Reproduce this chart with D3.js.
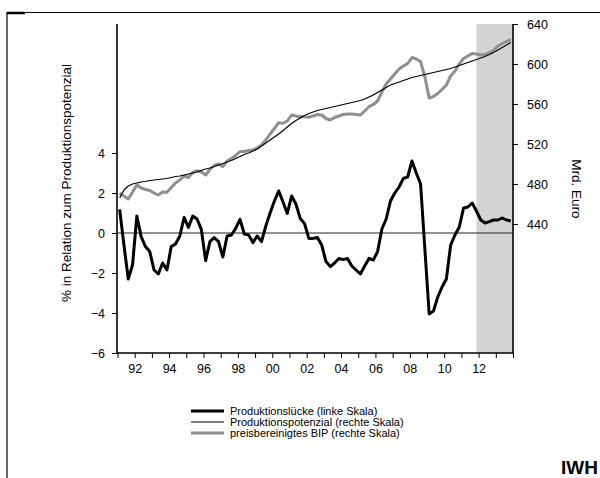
<!DOCTYPE html>
<html>
<head>
<meta charset="utf-8">
<script src="https://cdn.jsdelivr.net/npm/d3@7"></script>
<style>
  body { margin: 0; background: #fff; }
  svg { display: block; font-family: "Liberation Sans", Arial, sans-serif; }
  text { fill: #000; }
</style>
</head>
<body>
<svg id="chart" width="600" height="478"></svg>
<script>
// quarterly data 1991Q1 .. 2013Q4
var startYear = 1991
var forecastStart = 2011.875

// Produktionslücke in % (left scale)
var gap = [1.18, -0.6, -2.3, -1.6, 0.85, -0.18, -0.68, -0.93, -1.85, -2.05,
  -1.5, -1.85, -0.68, -0.55, -0.15, 0.78, 0.28, 0.85, 0.7, 0.18,
  -1.38, -0.43, -0.23, -0.43, -1.2, -0.15, -0.1, 0.23, 0.68, -0.05,
  -0.1, -0.48, -0.15, -0.43, 0.35, 1.0, 1.6, 2.1, 1.55, 0.98,
  1.85, 1.45, 0.73, 0.48, -0.27, -0.27, -0.22, -0.6, -1.43, -1.68,
  -1.5, -1.27, -1.33, -1.27, -1.65, -1.85, -2.05, -1.65, -1.27, -1.35,
  -0.93, 0.2, 0.7, 1.6, 2.0, 2.3, 2.73, 2.8, 3.6, 3.0,
  2.45, -0.8, -4.05, -3.9, -3.2, -2.7, -2.3, -0.6, -0.1, 0.3,
  1.25, 1.3, 1.5, 1.1, 0.65, 0.5, 0.57, 0.65, 0.65, 0.75,
  0.65, 0.6]

// Produktionspotenzial in Mrd. Euro (right scale)
var potential = [466, 474, 478, 480, 481, 482, 482.5, 483.5, 484, 484.5,
  485, 485.5, 486.5, 487.5, 488, 489, 490, 491, 492, 493.5,
  495, 496, 497.5, 499, 500.5, 502, 503.5, 505.5, 507.5, 509.5,
  511, 513, 515, 518, 521, 524, 527, 530, 533.5, 537,
  540.5, 543.5, 546, 548.5, 550.5, 552, 553.5, 554.5, 555.5, 556.5,
  557.5, 558.5, 559.5, 560.5, 561.5, 562.5, 563.5, 565, 567, 569,
  571.5, 574, 576.5, 579, 580.5, 582, 583.5, 585, 586.5, 587.5,
  588.5, 589.5, 590.5, 591.5, 592.5, 593.5, 594.5, 595.5, 597, 598.5,
  600, 601.5, 603, 604.5, 606, 607.5, 609.5, 611.5, 614, 616.5,
  619, 621.5]

// preisbereinigtes BIP in Mrd. Euro (right scale)
var bip = [470.7, 468, 465, 472, 479, 476, 474.5, 473.5, 471, 469,
  472, 471.7, 476.5, 481, 484, 488, 486.5, 491.5, 493.3, 492,
  489, 494.5, 498.5, 500, 497.3, 503, 505.5, 508.5, 512.5, 512.5,
  513.5, 514, 516, 519, 524, 530, 535.5, 541.3, 540.7, 543,
  549, 548, 547.3, 547.3, 546.7, 548, 549.5, 549, 545.5, 544,
  546.5, 548, 549.5, 550, 550, 549.5, 549, 553, 557.3, 559.5,
  563, 572, 580, 585, 590, 595, 598, 600.5, 606.5, 605,
  602.5, 587, 566, 567.5, 570.5, 574.5, 579, 588, 593, 600,
  605.5, 608, 610.5, 610, 609, 609.5, 611.5, 613.5, 618, 620.5,
  622.5, 624.5]

var yearTicks = d3.range(1991, 2015)
var yearLabels = [1992, 1994, 1996, 1998, 2000, 2002, 2004, 2006, 2008, 2010, 2012]
var leftTicks = [-6, -4, -2, 0, 2, 4]
var rightTicks = [440, 480, 520, 560, 600, 640]

var legendItems = [
  {name: "Produktionslücke (linke Skala)", color: "#000", width: 3},
  {name: "Produktionspotenzial (rechte Skala)", color: "#000", width: 1.2},
  {name: "preisbereinigtes BIP (rechte Skala)", color: "#8f8f8f", width: 3}
]

var svg = d3.select("#chart")

// plot area
var plotLeft = 117, plotRight = 513, plotTop = 24, plotBottom = 353

var x = d3.scaleLinear().domain([1991, 2014]).range([plotLeft + 0.5, plotRight])
var yL = d3.scaleLinear().domain([-6, 4]).range([plotBottom, 153])
var yR = d3.scaleLinear().domain([440, 640]).range([224, plotTop])

function qx(i) { return x(startYear + (i + 0.5) / 4) }

// outer frame (top + left edge)
svg.append("line").attr("x1", 7).attr("x2", 600).attr("y1", 12.5).attr("y2", 12.5)
  .attr("stroke", "#000").attr("stroke-width", 1.2)
svg.append("line").attr("x1", 7).attr("x2", 7).attr("y1", 12).attr("y2", 478)
  .attr("stroke", "#000").attr("stroke-width", 1.2)
svg.append("line").attr("x1", 7).attr("x2", 25).attr("y1", 13).attr("y2", 13)
  .attr("stroke", "#000").attr("stroke-width", 2.5)

// forecast shading
svg.append("rect")
  .attr("x", x(forecastStart)).attr("y", plotTop)
  .attr("width", plotRight - x(forecastStart)).attr("height", plotBottom - plotTop)
  .attr("fill", "#d3d3d3")

// zero line
svg.append("line")
  .attr("x1", plotLeft).attr("x2", plotRight).attr("y1", yL(0)).attr("y2", yL(0))
  .attr("stroke", "#222").attr("stroke-width", 1)

// axes
var axisL = svg.append("g").attr("transform", "translate(" + plotLeft + ",0)")
  .call(d3.axisLeft(yL).tickValues(leftTicks).tickSize(5).tickPadding(7))
var axisR = svg.append("g").attr("transform", "translate(" + plotRight + ",0)")
  .call(d3.axisRight(yR).tickValues(rightTicks).tickSize(5).tickPadding(9))
var axisX = svg.append("g").attr("transform", "translate(0," + plotBottom + ")")
  .call(d3.axisBottom(x).tickValues(yearTicks).tickSize(5).tickFormat(""))
var axisXL = svg.append("g").attr("transform", "translate(0," + plotBottom + ")")
  .call(d3.axisBottom(x).tickValues(yearLabels).tickSize(0).tickPadding(11)
    .tickFormat(function(d) { return d3.format("02d")(d % 100) }))

;[axisL, axisR, axisX, axisXL].forEach(function(g) {
  g.select(".domain").remove()
  g.selectAll("line").attr("stroke", "#000").attr("stroke-width", 1)
  g.selectAll("text").attr("fill", "#000").style("font-size", "12.5px")
    .style("font-family", "'Liberation Sans', Arial, sans-serif")
})

// axis lines
svg.append("line").attr("x1", plotLeft).attr("x2", plotLeft).attr("y1", plotTop).attr("y2", plotBottom + 0.5)
  .attr("stroke", "#000").attr("stroke-width", 1.6)
svg.append("line").attr("x1", plotRight).attr("x2", plotRight).attr("y1", plotTop).attr("y2", plotBottom + 0.5)
  .attr("stroke", "#000").attr("stroke-width", 1.6)
svg.append("line").attr("x1", plotLeft).attr("x2", plotRight).attr("y1", plotBottom).attr("y2", plotBottom)
  .attr("stroke", "#000").attr("stroke-width", 1.6)

// lines
var lineL = d3.line().x(function(d, i) { return qx(i) }).y(function(d) { return yL(d) })
var lineR = d3.line().x(function(d, i) { return qx(i) }).y(function(d) { return yR(d) })

svg.append("path").datum(bip).attr("d", lineR)
  .attr("fill", "none").attr("stroke", "#8f8f8f").attr("stroke-width", 3).attr("stroke-linejoin", "round")
svg.append("path").datum(potential).attr("d", lineR)
  .attr("fill", "none").attr("stroke", "#000").attr("stroke-width", 1.2).attr("stroke-linejoin", "round")
svg.append("path").datum(gap).attr("d", lineL)
  .attr("fill", "none").attr("stroke", "#000").attr("stroke-width", 3).attr("stroke-linejoin", "round")

// axis titles
svg.append("text")
  .attr("transform", "translate(71,183) rotate(-90)")
  .attr("text-anchor", "middle")
  .style("font-size", "13.5px")
  .text("% in Relation zum Produktionspotenzial")
svg.append("text")
  .attr("transform", "translate(572,189) rotate(90)")
  .attr("text-anchor", "middle")
  .style("font-size", "13.5px")
  .text("Mrd. Euro")

// legend
var legend = svg.append("g").attr("transform", "translate(191,411)")
legendItems.forEach(function(d, i) {
  var row = legend.append("g").attr("transform", "translate(0," + (i * 11) + ")")
  row.append("line").attr("x1", 0).attr("x2", 33).attr("y1", 0).attr("y2", 0)
    .attr("stroke", d.color).attr("stroke-width", d.width)
  row.append("text").attr("x", 39).attr("y", 4)
    .style("font-size", "11px").text(d.name)
})

// source
svg.append("text").attr("x", 598).attr("y", 474).attr("text-anchor", "end")
  .style("font-size", "19px").style("font-weight", "bold").text("IWH")
</script>
</body>
</html>
